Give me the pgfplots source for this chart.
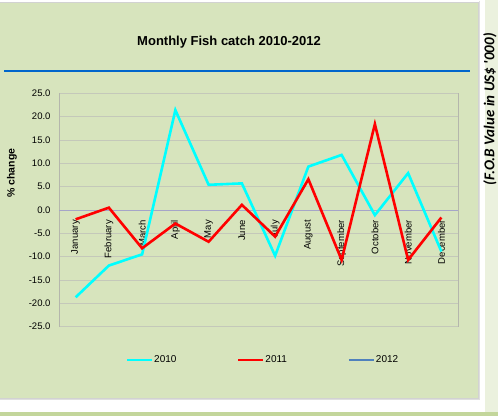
\documentclass[border=0pt]{standalone}
\usepackage{pgfplots}
\pgfplotsset{compat=1.18}
\usepackage{fontspec}
\setmainfont{Liberation Sans}
\newfontfamily\carlito{Carlito}
\definecolor{chartbg}{RGB}{215,228,189}
\definecolor{stripbg}{RGB}{235,241,222}
\definecolor{bandbg}{RGB}{195,214,155}
\definecolor{titleline}{RGB}{0,102,204}
\definecolor{gridc}{RGB}{196,200,186}
\definecolor{axisc}{RGB}{180,182,172}
\definecolor{zeroc}{RGB}{165,165,200}
\definecolor{c2010}{RGB}{0,255,255}
\definecolor{c2011}{RGB}{255,0,0}
\definecolor{c2012}{RGB}{79,129,189}
\begin{document}
\begin{tikzpicture}[x=1pt,y=1pt]
\useasboundingbox (0,0) rectangle (498,416);
\begin{scope}
\clip (0,0) rectangle (498,416);
\fill[white] (0,0) rectangle (498,416);
\fill[bandbg] (0,0) rectangle (498,4);
\fill[stripbg] (485,4) rectangle (498,416);
\fill[chartbg] (-2,18) rectangle (478,414);
\draw[gray!35, line width=0.8pt] (-2,414) -- (478,414) -- (478,18) -- (-2,18);
\draw[gray!25, line width=1pt] (479.5,415) -- (479.5,16.5) -- (-2,16.5);
\node[font=\bfseries\fontsize{13}{15}\selectfont] at (229,374) {Monthly Fish catch 2010-2012};
\draw[titleline, line width=2pt] (4,344.5) -- (470,344.5);
\node[rotate=90, font=\bfseries\fontsize{10.5}{12}\selectfont] at (12,243) {\% change};
\node[rotate=90, anchor=base east, inner sep=0pt, font=\carlito\bfseries\itshape\fontsize{15}{17}\selectfont] at (494.3,383) {(F.O.B Value in US\$ '000)};
\end{scope}
\begin{axis}[
  at={(59pt,89.3pt)}, anchor=south west,
  width=399pt, height=233.4pt, scale only axis,
  xmin=-0.5, xmax=11.5, ymin=-25, ymax=25,
  separate axis lines,
  x axis line style={draw=none},
  y axis line style={draw=axisc, line width=0.8pt},
  ytick={-25,-20,...,25},
  ymajorgrids, grid style={draw=gridc, line width=0.8pt},
  ytick style={draw=none}, xtick style={draw=none},
  yticklabel style={font=\fontsize{9.5}{11}\selectfont, xshift=-5pt},
  /pgf/number format/assume math mode=true,
  yticklabel={\pgfmathprintnumber[fixed, fixed zerofill, precision=1]{\tick}},
  xtick=data,
  xticklabels={January,February,March,April,May,June,July,August,September,October,November,December},
  xticklabel style={rotate=90, anchor=east, font=\fontsize{9.5}{11}\selectfont},
  xticklabel shift=-110pt,
  legend columns=3,
  legend style={at={(0.168,-0.1427)}, anchor=west, draw=none, fill=none, inner sep=0pt,
    font=\fontsize{10}{12}\selectfont, nodes={inner sep=1pt},
    /tikz/every even column/.append style={column sep=60pt}},
  legend image code/.code={\draw[#1, line width=2pt] (0pt,0pt) -- (25pt,0pt);},
  clip=false,
]
\draw[zeroc, line width=1pt] (axis cs:-0.5,0) -- (axis cs:11.5,0);
\addplot[c2010, line width=2.6pt, line join=miter] coordinates {
 (0,-18.7) (1,-11.9) (2,-9.5) (3,21.4) (4,5.4) (5,5.7) (6,-9.8) (7,9.3) (8,11.8) (9,-1.1) (10,7.9) (11,-8.9)};
\addlegendentry{2010}
\addplot[c2011, line width=2.6pt, line join=miter] coordinates {
 (0,-2.0) (1,0.5) (2,-8.2) (3,-2.9) (4,-6.8) (5,1.1) (6,-5.7) (7,6.6) (8,-10.7) (9,18.4) (10,-10.7) (11,-1.6)};
\addlegendentry{2011}
\addlegendimage{c2012, line width=2pt}
\addlegendentry{2012}
\end{axis}
\end{tikzpicture}
\end{document}
